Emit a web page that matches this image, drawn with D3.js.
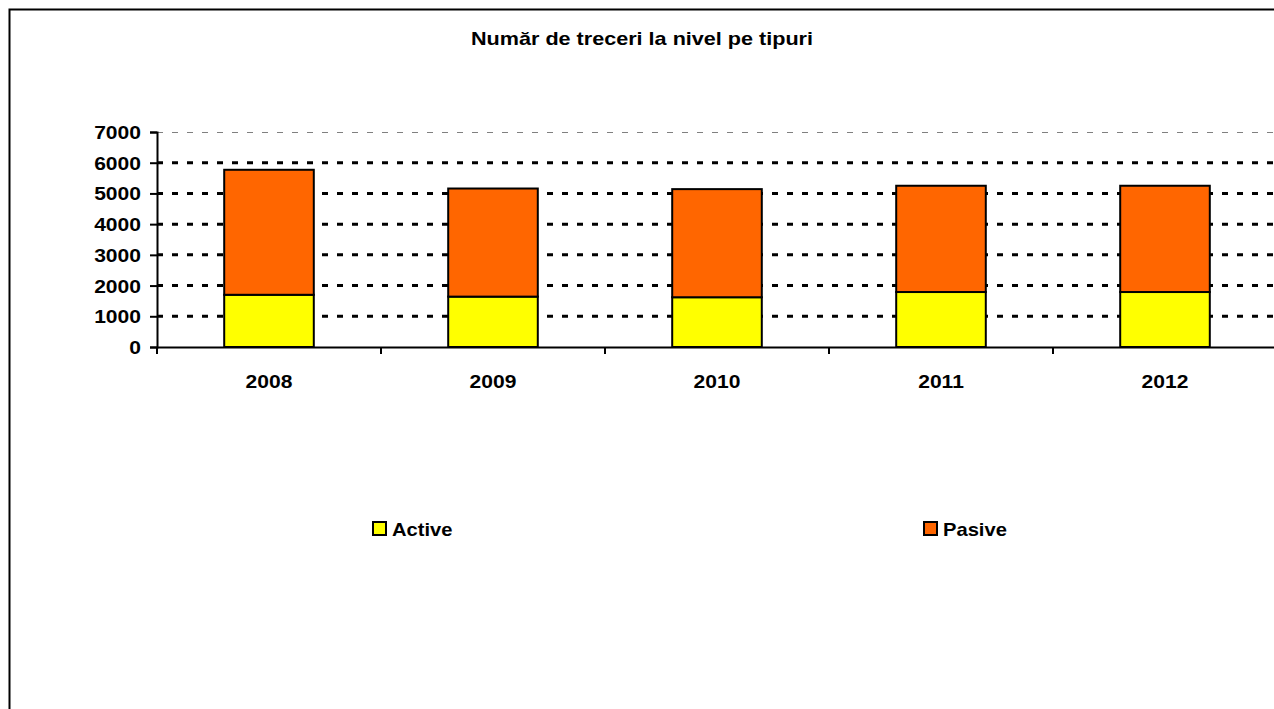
<!DOCTYPE html>
<html><head><meta charset="utf-8">
<script src="https://cdn.jsdelivr.net/npm/d3@7"></script>
<style>body{margin:0;background:#fff}svg{display:block}text{font-family:"Liberation Sans",Arial,sans-serif;font-weight:bold;fill:#000}</style>
</head><body><svg id="c" width="1274" height="709"></svg>
<script>
const years = ["2008","2009","2010","2011","2012"];
const active = [1700, 1640, 1620, 1790, 1790];
const pasive = [4070, 3520, 3520, 3460, 3460];
const yTicks = [0,1000,2000,3000,4000,5000,6000,7000];
const seriesNames = ["Active","Pasive"];
const colors = ["#FFFF00","#FF6600"];
const title = "Număr de treceri la nivel pe tipuri";

const svg = d3.select("#c");
svg.append("rect").attr("x",9.5).attr("y",9.5).attr("width",1300).attr("height",740)
  .attr("fill","#fff").attr("stroke","#000").attr("stroke-width",2);

const x0 = 157, x1 = 1277, yB = 347, yT = 132;
const x = d3.scaleBand().domain(years).range([x0,x1]).paddingInner(0.6).paddingOuter(0.3);
const y = d3.scaleLinear().domain([0,7000]).range([yB,yT]);
const sx = 1.17;

// title
svg.append("text").attr("transform",`translate(642,45) scale(1.2,1)`).attr("text-anchor","middle")
  .style("font-size","18px").text(title);

// gridlines
svg.append("g").selectAll("line").data(yTicks.filter(d=>d>0)).join("line")
  .attr("x1",x0).attr("x2",x1)
  .attr("y1",d=>y(d)+(d===7000?0.5:0)).attr("y2",d=>y(d)+(d===7000?0.5:0))
  .attr("stroke",d=>d===7000?"#808080":"#000")
  .attr("stroke-width",d=>d===7000?1:3)
  .attr("stroke-dasharray","6,9");

// bars
const stack = d3.stack().keys([0,1]).value((d,k)=>k===0?d.a:d.p);
const rows = years.map((yr,i)=>({yr,a:active[i],p:pasive[i]}));
const layers = stack(rows);
svg.append("g").selectAll("g").data(layers).join("g").attr("fill",(d,i)=>colors[i])
  .selectAll("rect").data(d=>d).join("rect")
  .attr("x",d=>x(d.data.yr)).attr("width",x.bandwidth())
  .attr("y",d=>y(d[1])).attr("height",d=>y(d[0])-y(d[1]))
  .attr("stroke","#000").attr("stroke-width",2);

// y axis
const yAxis = svg.append("g").attr("transform",`translate(${x0},0)`)
  .call(d3.axisLeft(y).tickValues(yTicks).tickSize(7).tickPadding(8).tickFormat(d3.format("d")));
yAxis.select(".domain").attr("stroke","#000").attr("stroke-width",2);
yAxis.selectAll(".tick line").attr("stroke","#000").attr("stroke-width",2);
yAxis.selectAll(".tick text").style("font-size","18px").style("font-family",null)
  .attr("x",null).attr("dy",null)
  .attr("transform",`translate(-16,6.5) scale(${sx},1)`);

// x axis
const xAxis = svg.append("g").attr("transform",`translate(0,${yB})`)
  .call(d3.axisBottom(x).tickSize(0).tickPadding(0));
xAxis.select(".domain").attr("stroke","#000").attr("stroke-width",2);
xAxis.selectAll(".tick text").style("font-size","18px").attr("y",null).attr("dy",null)
  .attr("transform",`translate(0,41) scale(${sx},1)`);
const step = x.step();
svg.append("g").selectAll("line").data(d3.range(years.length+1)).join("line")
  .attr("x1",i=>x0+i*step).attr("x2",i=>x0+i*step).attr("y1",yB).attr("y2",yB+7)
  .attr("stroke","#000").attr("stroke-width",2);

// legend
const legX = [372, 923];
const lg = svg.append("g").selectAll("g").data(seriesNames).join("g")
  .attr("transform",(d,i)=>`translate(${legX[i]},521)`);
lg.append("rect").attr("x",1).attr("y",1).attr("width",13).attr("height",13)
  .attr("fill",(d,i)=>colors[i]).attr("stroke","#000").attr("stroke-width",2);
lg.append("text").attr("transform","translate(20,15) scale(1.12,1)").style("font-size","18px").text(d=>d);
</script></body></html>
